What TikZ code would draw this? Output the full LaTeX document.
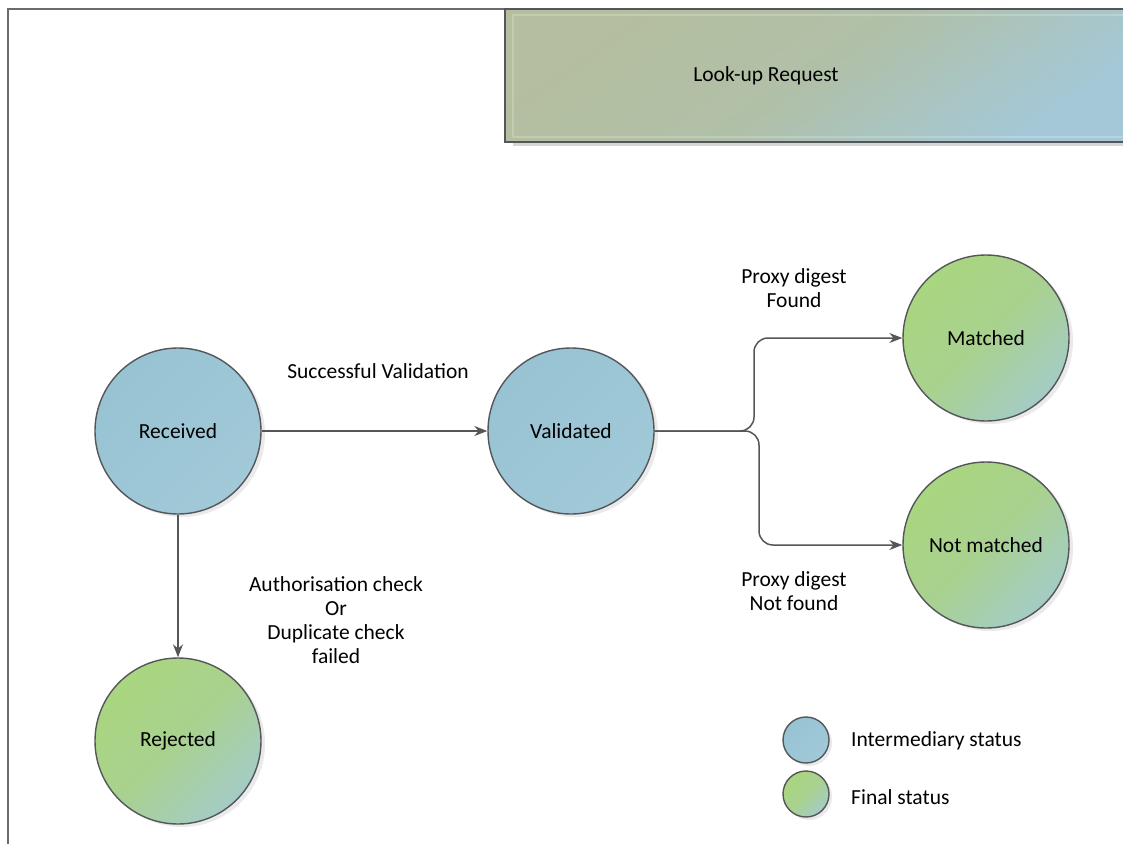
\documentclass[tikz,border=0pt]{standalone}
\usepackage{fontspec}
\setmainfont{Carlito}
\usetikzlibrary{shadows,arrows.meta}
\definecolor{edgegray}{HTML}{55565A}
\definecolor{framegray}{HTML}{6A6B6E}
\definecolor{bluetl}{HTML}{98C3D3}
\definecolor{bluebr}{HTML}{A1C9D8}
\definecolor{greentl}{HTML}{A9D67F}
\definecolor{greenmid}{HTML}{A9D18F}
\definecolor{greenbr}{HTML}{A4CCC6}
\definecolor{titletl}{HTML}{B5BE9E}
\definecolor{titlemid}{HTML}{B0C0A8}
\definecolor{titlebr}{HTML}{A4C8D8}
\begin{document}
\begin{tikzpicture}[x=1pt,y=-1pt,
  stnode/.style={circle, draw=edgegray, line width=1.4pt, minimum size=166pt, inner sep=0pt,
    font=\fontsize{21.5}{25}\selectfont,
    drop shadow={shadow xshift=4pt, shadow yshift=-3pt, fill=black!16}},
  inter/.style={stnode, top color=bluetl, bottom color=bluebr, shading angle=45},
  final/.style={stnode, top color=greentl, bottom color=greenbr, middle color=greenmid, shading angle=45},
  legcircle/.style={circle, draw=edgegray, line width=1.4pt, minimum size=46pt, inner sep=0pt,
    drop shadow={shadow xshift=3pt, shadow yshift=-3pt, fill=black!16}},
  leginter/.style={legcircle, top color=bluetl, bottom color=bluebr, shading angle=45},
  legfinal/.style={legcircle, top color=greentl, bottom color=greenbr, middle color=greenmid, shading angle=45},
  conn/.style={draw=edgegray, line width=1.5pt, -{Stealth[length=13pt,width=10pt]}},
  lbl/.style={font=\fontsize{21.5}{24}\selectfont, align=center, inner sep=0pt},
  legtext/.style={font=\fontsize{21.5}{24}\selectfont, anchor=west, inner sep=0pt},
  frameline/.style={draw=framegray, line width=2pt}]
\useasboundingbox (0,0) rectangle (1123,843);
\clip (0,0) rectangle (1123,843);
\fill[white] (0,0) rectangle (1123,843);

% frame
\draw[frameline] (8,850) -- (8,9) -- (1130,9);

% title box
\fill[black!16] (513,146) rectangle (1130,138);
\path[draw=edgegray, line width=1.5pt, top color=titletl, bottom color=titlebr, middle color=titlemid, shading angle=35]
  (505,9) rectangle (1130,142);
\draw[white, opacity=0.2, line width=1.2pt] (513,15) rectangle (1130,137);
\node[lbl] (title) at (766,76) {Look-up Request};

% states
\node[inter] (rec) at (178,431) {Received};
\node[inter] (val) at (571,431) {Validated};
\node[final] (mat) at (986,338) {Matched};
\node[final] (nmat) at (986,545) {Not matched};
\node[final] (rej) at (178,741) {Rejected};

% connectors
\draw[conn] (rec) -- (val);
\draw[conn] (rec) -- (rej);
\coordinate (bup) at (754,431);
\coordinate (bdn) at (759,431);
\draw[conn, rounded corners=14pt] (val.east) -- (bup) |- (mat);
\draw[conn, rounded corners=14pt] (val.east) -- (bdn) |- (nmat);

% labels
\node[lbl] (lsv) at (378,371) {Successful Validation};
\node[lbl] (lpf) at (794,288) {Proxy digest\\Found};
\node[lbl] (lpn) at (794,591) {Proxy digest\\Not found};
\node[lbl] (lauth) at (336,620) {Authorisation check\\Or\\Duplicate check\\failed};

% legend
\node[leginter] (lgi) at (806,740) {};
\node[legfinal] (lgf) at (806,794) {};
\node[legtext] (lgit) at (851,741) {Intermediary status};
\node[legtext] (lgft) at (851,797) {Final status};
\end{tikzpicture}
\end{document}
